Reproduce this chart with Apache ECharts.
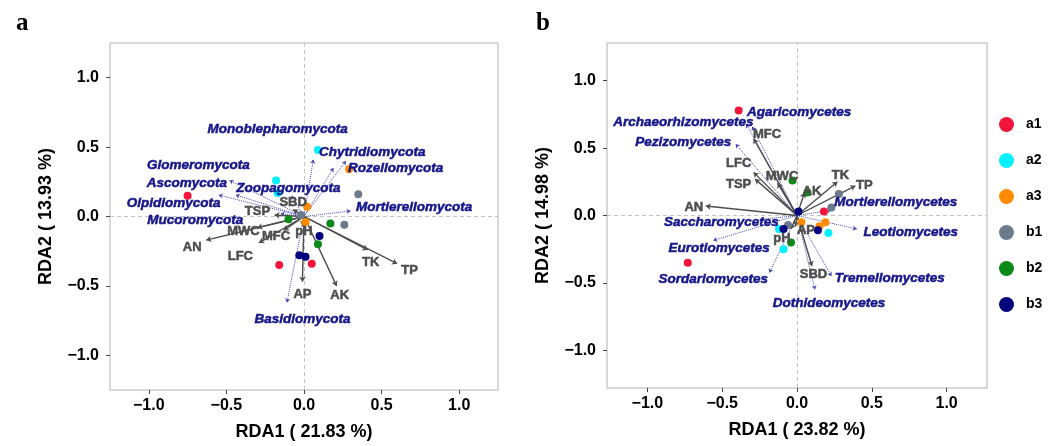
<!DOCTYPE html>
<html>
<head>
<meta charset="utf-8">
<script src="https://cdn.jsdelivr.net/npm/echarts@6/dist/echarts.min.js"></script>
<style>
  html, body { margin: 0; padding: 0; background: #fff; }
  #main { width: 1051px; height: 446px; }
</style>
</head>
<body>
<div id="main"></div>
<script>
// groups (a1..b3), 3 samples each
const groups = ['a1', 'a2', 'a3', 'b1', 'b2', 'b3'];
const groupColors = ['#f5143c', '#00f2ff', '#ff8c00', '#6b7b8c', '#0b8a1a', '#00007f'];

// panel a sample scores (RDA1, RDA2)
const sitesA = [
  [[-0.75, 0.15], [-0.16, -0.35], [0.05, -0.34]],
  [[0.09, 0.48], [-0.18, 0.26], [-0.17, 0.17]],
  [[0.29, 0.34], [0.02, 0.07], [0.01, -0.04]],
  [[0.35, 0.16], [0.26, -0.06], [-0.02, 0.01]],
  [[-0.10, -0.02], [0.17, -0.05], [0.09, -0.20]],
  [[0.10, -0.14], [-0.03, -0.28], [0.01, -0.29]]
];
// panel b sample scores
const sitesB = [
  [[-0.39, 0.78], [-0.73, -0.35], [0.18, 0.03]],
  [[-0.12, -0.10], [-0.09, -0.25], [0.21, -0.13]],
  [[0.03, -0.05], [0.15, -0.08], [0.19, -0.05]],
  [[0.28, 0.16], [0.23, 0.06], [-0.06, -0.07]],
  [[-0.03, 0.26], [0.07, 0.17], [-0.04, -0.20]],
  [[0.01, 0.03], [-0.09, -0.10], [0.14, -0.11]]
];

// environmental factors
const envNames = ['AN', 'MWC', 'LFC', 'MFC', 'TSP', 'SBD', 'pH', 'AP', 'AK', 'TK', 'TP'];
const envTipsA = [[-0.63, -0.17], [-0.30, -0.08], [-0.29, -0.19], [-0.13, -0.10], [-0.19, 0.01], [-0.07, 0.05],
  [-0.01, -0.07], [-0.01, -0.47], [0.21, -0.50], [0.41, -0.24], [0.60, -0.34]];
const envLabA = [[-0.72, -0.22], [-0.39, -0.11], [-0.41, -0.29], [-0.18, -0.14], [-0.30, 0.04], [-0.07, 0.10],
  [0.00, -0.11], [-0.01, -0.56], [0.23, -0.57], [0.43, -0.33], [0.68, -0.39]];
const envTipsB = [[-0.61, 0.07], [-0.13, 0.24], [-0.29, 0.32], [-0.29, 0.57], [-0.28, 0.27], [0.10, -0.375],
  [-0.04, -0.10], [-0.01, -0.08], [0.05, 0.17], [0.27, 0.25], [0.39, 0.22]];
const envLabB = [[-0.69, 0.06], [-0.10, 0.29], [-0.39, 0.385], [-0.20, 0.60], [-0.39, 0.23], [0.11, -0.44],
  [-0.10, -0.17], [0.06, -0.11], [0.10, 0.18], [0.29, 0.30], [0.45, 0.22]];

// fungal taxa
const sppNamesA = ['Monoblepharomycota', 'Chytridiomycota', 'Rozellomycota', 'Glomeromycota', 'Ascomycota',
  'Zoopagomycota', 'Olpidiomycota', 'Mortierellomycota', 'Mucoromycota', 'Basidiomycota'];
const sppTipsA = [[0.06, 0.41], [0.27, 0.40], [0.19, 0.35], [-0.44, 0.155], [-0.48, 0.26],
  [-0.08, 0.15], [-0.55, 0.155], [0.30, 0.04], [-0.15, 0.02], [-0.11, -0.62]];
const sppLabA = [[-0.17, 0.63], [0.44, 0.46], [0.59, 0.35], [-0.68, 0.37], [-0.755, 0.24],
  [-0.10, 0.20], [-0.84, 0.095], [0.71, 0.065], [-0.70, -0.03], [-0.01, -0.74]];

const sppNamesB = ['Agaricomycetes', 'Archaeorhizomycetes', 'Pezizomycetes', 'Mortierellomycetes', 'Saccharomycetes',
  'Leotiomycetes', 'Eurotiomycetes', 'Sordariomycetes', 'Tremellomycetes', 'Dothideomycetes'];
const sppTipsB = [[-0.34, 0.68], [-0.30, 0.66], [-0.41, 0.53], [0.23, 0.04], [-0.245, -0.03],
  [0.40, -0.10], [-0.56, -0.185], [-0.185, -0.425], [0.23, -0.45], [0.12, -0.55]];
const sppLabB = [[0.014, 0.765], [-0.76, 0.694], [-0.76, 0.546], [0.66, 0.10], [-0.505, -0.054],
  [0.76, -0.124], [-0.52, -0.24], [-0.56, -0.474], [0.62, -0.467], [0.214, -0.654]];

const ticks = [-1, -0.5, 0, 0.5, 1];
const axisNames = {
  xa: 'RDA1 ( 21.83 %)', ya: 'RDA2 ( 13.93 %)',
  xb: 'RDA1 ( 23.82 %)', yb: 'RDA2 ( 14.98 %)'
};

const FONT = 'Liberation Sans, Arial, sans-serif';
const SPP_COLOR = '#16168a';
const ENV_COLOR = '#4d4d4d';

function fmt(v) {
  return (v < 0 ? '\u2212' : '') + Math.abs(v).toFixed(1);
}

function makeAxis(idx, range, name, gap, isX) {
  return {
    type: 'value',
    gridIndex: idx,
    min: -range,
    max: range,
    name: name,
    nameLocation: 'middle',
    nameGap: gap,
    nameTextStyle: { fontFamily: FONT, fontWeight: 'bold', fontSize: 18, color: '#000' },
    axisLine: { show: false, onZero: false },
    axisTick: { show: true, length: 4, lineStyle: { color: '#444' }, customValues: ticks },
    axisLabel: {
      show: true, margin: isX ? 8 : 11, customValues: ticks, formatter: fmt,
      fontFamily: FONT, fontWeight: 'bold', fontSize: 16, color: '#000'
    },
    splitLine: { show: false }
  };
}

function arrows(tips, idx, style, size) {
  return {
    type: 'lines',
    coordinateSystem: 'cartesian2d',
    xAxisIndex: idx,
    yAxisIndex: idx,
    silent: true,
    symbol: ['none', 'arrow'],
    symbolSize: size,
    lineStyle: style,
    data: tips.map(t => ({ coords: [[0, 0], t] })),
    z: 3
  };
}

function labels(names, pos, idx, textStyle, withZero) {
  const s = {
    type: 'scatter',
    xAxisIndex: idx,
    yAxisIndex: idx,
    silent: true,
    symbolSize: 0,
    itemStyle: { color: '#fff', opacity: 1 },
    data: names.map((n, i) => ({ name: n, value: pos[i] })),
    label: Object.assign({
      show: true, position: 'inside', formatter: '{b}', opacity: 1,
      textBorderWidth: 0.5, textShadowBlur: 0
    }, textStyle, { textBorderColor: textStyle.color || 'transparent' }),
    z: 6
  };
  if (withZero) {
    s.markLine = {
      silent: true,
      symbol: 'none',
      label: { show: false },
      lineStyle: { type: [4, 3], color: '#c4c4c4', width: 1 },
      data: [{ xAxis: 0 }, { yAxis: 0 }],
      z: 1
    };
  }
  return s;
}

const sppText = { fontFamily: FONT, fontWeight: 'bold', fontStyle: 'italic', fontSize: 13.5, color: SPP_COLOR };
const envText = { fontFamily: FONT, fontWeight: 'bold', fontSize: 13, color: ENV_COLOR };

const series = [];
[sitesA, sitesB].forEach((sites, idx) => {
  series.push(labels([], [], idx, {}, true));
  series.push(arrows(idx === 0 ? sppTipsA : sppTipsB, idx,
    { color: '#3434b0', width: 1, type: 'dotted', opacity: 0.9 }, 4));
  series.push(arrows(idx === 0 ? envTipsA : envTipsB, idx,
    { color: ENV_COLOR, width: 1.4, type: 'solid', opacity: 1 }, 5));
  groups.forEach((g, gi) => {
    series.push({
      type: 'scatter',
      name: g,
      xAxisIndex: idx,
      yAxisIndex: idx,
      symbolSize: 8,
      itemStyle: { color: groupColors[gi], opacity: 1 },
      data: sites[gi],
      z: 4
    });
  });
  series.push(labels(idx === 0 ? sppNamesA : sppNamesB, idx === 0 ? sppLabA : sppLabB, idx, sppText, false));
  series.push(labels(envNames, idx === 0 ? envLabA : envLabB, idx, envText, false));
});

const chart = echarts.init(document.getElementById('main'), null, { renderer: 'canvas' });
chart.setOption({
  animation: false,
  backgroundColor: '#fff',
  title: [
    { text: 'a', left: 11, top: 6, textStyle: { fontFamily: 'Liberation Serif, serif', fontWeight: 'bold', fontSize: 25, color: '#000' } },
    { text: 'b', left: 531, top: 6, textStyle: { fontFamily: 'Liberation Serif, serif', fontWeight: 'bold', fontSize: 25, color: '#000' } }
  ],
  legend: {
    data: groups,
    orient: 'vertical',
    left: 994,
    top: 112,
    icon: 'circle',
    itemWidth: 15,
    itemHeight: 15,
    itemGap: 21,
    textStyle: { fontFamily: FONT, fontWeight: 'bold', fontSize: 14, color: '#000', padding: [0, 0, 0, 7] }
  },
  grid: [
    { left: 110, top: 43, width: 388, height: 348, show: true, borderColor: '#cccccc', borderWidth: 1.5 },
    { left: 607, top: 43, width: 380, height: 345, show: true, borderColor: '#cccccc', borderWidth: 1.5 }
  ],
  xAxis: [
    makeAxis(0, 1.25, axisNames.xa, 33, true),
    makeAxis(1, 1.27, axisNames.xb, 33, true)
  ],
  yAxis: [
    makeAxis(0, 1.25, axisNames.ya, 55, false),
    makeAxis(1, 1.28, axisNames.yb, 55, false)
  ],
  series: series
});
</script>
</body>
</html>
